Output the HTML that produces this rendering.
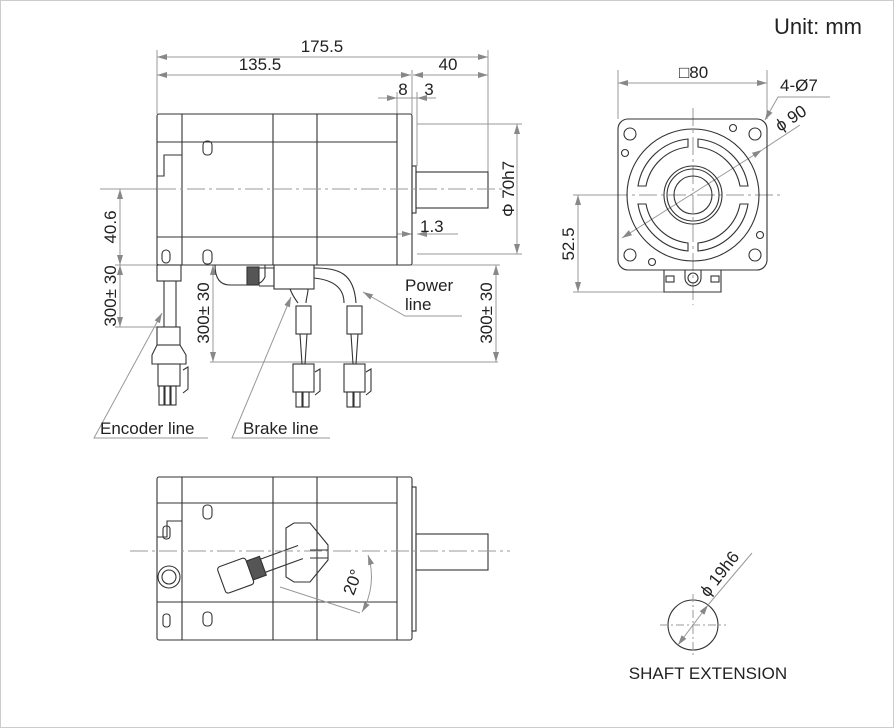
<!DOCTYPE html>
<html><head><meta charset="utf-8"><style>
html,body{margin:0;padding:0;background:#fff;}
svg{display:block;font-family:"Liberation Sans",sans-serif;}
</style></head><body>
<svg width="894" height="728" viewBox="0 0 894 728" xmlns="http://www.w3.org/2000/svg">
<defs>
<marker id="a" viewBox="0 0 10 6" refX="10" refY="3" markerWidth="10" markerHeight="6" orient="auto-start-reverse" markerUnits="userSpaceOnUse"><path d="M0,0L10,3L0,6z" fill="#888"/></marker>
</defs>
<rect x="0.5" y="0.5" width="893" height="727" fill="#fff" stroke="#ccc"/>
<text x="862" y="34" font-size="22" text-anchor="end" fill="#222">Unit: mm</text>

<!-- ===== Top side view ===== -->
<g fill="none" stroke="#999" stroke-width="1">
<!-- extension lines -->
<line x1="157" y1="50" x2="157" y2="114"/><line x1="488" y1="50" x2="488" y2="172"/>
<line x1="412" y1="70" x2="412" y2="114"/><line x1="397" y1="92" x2="397" y2="114"/><line x1="417" y1="92" x2="417" y2="166"/>
<line x1="157" y1="57" x2="488" y2="57" marker-start="url(#a)" marker-end="url(#a)"/>
<line x1="157" y1="75" x2="411" y2="75" marker-start="url(#a)" marker-end="url(#a)"/>
<line x1="413" y1="75" x2="488" y2="75" marker-start="url(#a)" marker-end="url(#a)"/>
<line x1="378" y1="98" x2="397" y2="98" marker-end="url(#a)"/>
<line x1="436" y1="98" x2="417" y2="98" marker-end="url(#a)"/>
<line x1="397" y1="98" x2="417" y2="98"/>
<!-- phi 70 -->
<line x1="417" y1="124" x2="522" y2="124"/><line x1="417" y1="254" x2="522" y2="254"/>
<line x1="517" y1="124" x2="517" y2="254" marker-start="url(#a)" marker-end="url(#a)"/>
<!-- 1.3 -->
<line x1="397" y1="234" x2="412" y2="234" marker-end="url(#a)"/>
<line x1="458" y1="234" x2="417" y2="234" marker-end="url(#a)"/>
<!-- 40.6 -->
<line x1="115" y1="189" x2="157" y2="189"/>
<line x1="120" y1="189" x2="120" y2="265" marker-start="url(#a)" marker-end="url(#a)"/>
<line x1="115" y1="265" x2="160" y2="265"/>
<line x1="120" y1="265" x2="120" y2="327" marker-start="url(#a)" marker-end="url(#a)"/>
<line x1="115" y1="327" x2="158" y2="327"/>
<!-- middle 300 -->
<line x1="213" y1="265" x2="213" y2="362" marker-start="url(#a)" marker-end="url(#a)"/>
<line x1="210" y1="362" x2="498" y2="362"/>
<line x1="496" y1="265" x2="496" y2="362" marker-start="url(#a)" marker-end="url(#a)"/>
<line x1="300" y1="265" x2="500" y2="265"/>
<!-- leaders -->
<polyline points="162,313 94,438 208,438" marker-start="url(#a)"/>
<polyline points="291,297 232,438 330,438" marker-start="url(#a)"/>
<polyline points="363,292 405,316 462,316" marker-start="url(#a)"/>
</g>
<g fill="#222" font-size="17">
<text x="322" y="52" text-anchor="middle">175.5</text>
<text x="260" y="70" text-anchor="middle">135.5</text>
<text x="448" y="70" text-anchor="middle">40</text>
<text x="403" y="95" text-anchor="middle">8</text>
<text x="429" y="95" text-anchor="middle">3</text>
<text x="420" y="232">1.3</text>
<text x="405" y="291">Power</text><text x="405" y="310">line</text>
<text x="100" y="434">Encoder line</text>
<text x="243" y="434">Brake line</text>
<text transform="translate(514,189) rotate(-90)" text-anchor="middle">Φ 70h7</text>
<text transform="translate(116,227) rotate(-90)" text-anchor="middle">40.6</text>
<text transform="translate(116,296) rotate(-90)" text-anchor="middle">300± 30</text>
<text transform="translate(209,313) rotate(-90)" text-anchor="middle">300± 30</text>
<text transform="translate(492,313) rotate(-90)" text-anchor="middle">300± 30</text>
</g>
<g fill="none" stroke="#333" stroke-width="1.1">
<rect x="157" y="114" width="255" height="151" rx="2"/>
<line x1="182" y1="114" x2="182" y2="265"/>
<line x1="273" y1="114" x2="273" y2="265"/><line x1="317" y1="114" x2="317" y2="265"/>
<line x1="397" y1="114" x2="397" y2="265"/>
<line x1="157" y1="142" x2="397" y2="142"/><line x1="157" y1="237" x2="397" y2="237"/>
<polyline points="182,155 164,155 164,176 157,176"/>
<rect x="412" y="166" width="4" height="47"/>
<rect x="416" y="172" width="72" height="36"/>
<rect x="203" y="141" width="9" height="14" rx="4"/>
<rect x="203" y="250" width="9" height="14" rx="4"/>
<rect x="162" y="250" width="8" height="13" rx="4"/>
<!-- encoder cable -->
<rect x="157" y="265" width="24" height="16"/>
<line x1="164" y1="281" x2="164" y2="327"/><line x1="176" y1="281" x2="176" y2="327"/>
<rect x="157" y="327" width="23" height="18"/>
<polygon points="157,345 180,345 186,355 186,364 152,364 152,355"/>
<rect x="158" y="364" width="22" height="22"/>
<rect x="159" y="386" width="5" height="19"/><rect x="165" y="386" width="5" height="19"/><rect x="171" y="386" width="5" height="19"/>
<path d="M183,370 l5,-3 0,22 -5,4"/>
<!-- brake connector -->
<path d="M215,265 c0,10 3,20 15,20 h20 c8,0 12,-2 15,-8 v-12"/>
<rect x="247" y="267" width="12" height="18" fill="#555"/>
<path d="M259,268 h15 v18 h-15"/>
<rect x="274" y="265" width="40" height="24"/>
<path d="M290,289 c2,5 5,10 8,14 M308,289 c0,5 -2,10 -2,14"/>
<path d="M314,268 c25,0 40,5 42,35 M314,278 c20,2 30,10 30,25"/>
<!-- brake/power lead connectors -->
<g>
<rect x="296" y="306" width="15" height="28"/>
<path d="M300,334 l2,30 M307,334 l-2,30"/>
<rect x="293" y="364" width="21" height="28"/><rect x="296" y="392" width="6" height="15"/><rect x="303" y="392" width="6" height="15"/>
<path d="M315,372 l5,-3 0,22 -5,4"/>
</g>
<g transform="translate(51,0)">
<rect x="296" y="306" width="15" height="28"/>
<path d="M300,334 l2,30 M307,334 l-2,30"/>
<rect x="293" y="364" width="21" height="28"/><rect x="296" y="392" width="6" height="15"/><rect x="303" y="392" width="6" height="15"/>
<path d="M315,372 l5,-3 0,22 -5,4"/>
</g>
</g>
<line x1="100" y1="189" x2="510" y2="189" stroke="#999" stroke-dasharray="18,4,3,4"/>

<!-- ===== Front view ===== -->
<g fill="none" stroke="#999">
<line x1="618" y1="70" x2="618" y2="119"/><line x1="767" y1="70" x2="767" y2="119"/>
<line x1="618" y1="83" x2="767" y2="83" marker-start="url(#a)" marker-end="url(#a)"/>
<polyline points="830,97 778,97 765,120" marker-end="url(#a)"/>
<line x1="622" y1="238" x2="762" y2="150" marker-start="url(#a)" marker-end="url(#a)"/>
<line x1="762" y1="150" x2="800" y2="125"/>
<line x1="573" y1="195" x2="623" y2="195"/><line x1="573" y1="292" x2="690" y2="292"/>
<line x1="578" y1="195" x2="578" y2="292" marker-start="url(#a)" marker-end="url(#a)"/>
<line x1="610" y1="195" x2="780" y2="195" stroke-dasharray="18,4,3,4"/>
<line x1="693" y1="108" x2="693" y2="305" stroke-dasharray="18,4,3,4"/>
</g>
<g fill="#222" font-size="17">
<text x="679" y="78">□80</text>
<text x="780" y="91">4-Ø7</text>
<text transform="translate(780,132) rotate(-33)">ϕ 90</text>
<text transform="translate(574,244) rotate(-90)" text-anchor="middle">52.5</text>
</g>
<g fill="none" stroke="#333" stroke-width="1.1">
<rect x="618" y="119" width="149" height="151" rx="10"/>
<circle cx="693" cy="195" r="66"/>
<circle cx="693" cy="195" r="29"/><circle cx="693" cy="195" r="26"/><circle cx="693" cy="195" r="19"/>
<path d="M688,139 a56,56 0 0 0 -50,47 h8 a48,48 0 0 1 42,-39 z"/>
<path d="M698,139 a56,56 0 0 1 50,47 h-8 a48,48 0 0 0 -42,-39 z"/>
<path d="M688,251 a56,56 0 0 1 -50,-47 h8 a48,48 0 0 0 42,39 z"/>
<path d="M698,251 a56,56 0 0 0 50,-47 h-8 a48,48 0 0 1 -42,39 z"/>
<circle cx="630" cy="134" r="6"/><circle cx="755" cy="134" r="6"/><circle cx="630" cy="255" r="6"/><circle cx="755" cy="255" r="6"/>
<circle cx="733" cy="128" r="3.5"/><circle cx="625" cy="153" r="3.5"/><circle cx="760" cy="235" r="3.5"/><circle cx="652" cy="262" r="3.5"/>
<path d="M664,270 v22 h57 v-22"/>
<circle cx="693" cy="278" r="5"/><path d="M685,270 v8 a8,8 0 0 0 16,0 v-8"/>
<rect x="666" y="276" width="8" height="6"/><rect x="711" y="276" width="8" height="6"/>
</g>

<!-- ===== Bottom side view ===== -->
<g fill="none" stroke="#333" stroke-width="1.1">
<rect x="157" y="477" width="255" height="163" rx="2"/>
<line x1="182" y1="477" x2="182" y2="640"/>
<line x1="273" y1="477" x2="273" y2="640"/><line x1="317" y1="477" x2="317" y2="640"/>
<line x1="397" y1="477" x2="397" y2="640"/>
<line x1="157" y1="503" x2="397" y2="503"/><line x1="157" y1="602" x2="397" y2="602"/>
<polyline points="182,521 167,521 167,537 157,537"/>
<rect x="412" y="487" width="4" height="144"/>
<rect x="416" y="534" width="72" height="36"/>
<rect x="203" y="505" width="9" height="14" rx="4"/><rect x="203" y="612" width="9" height="14" rx="4"/>
<rect x="163" y="614" width="7" height="13" rx="3"/><rect x="163" y="526" width="7" height="13" rx="3"/>
<circle cx="169" cy="577" r="11"/><circle cx="169" cy="577" r="7"/>
<path d="M286,528 l8,-5 h16 l18,22 v15 l-18,22 h-16 l-8,-5 z"/>
<path d="M328,550 h-18 M328,558 h-18"/>
<g transform="rotate(-20 240 573)">
<rect x="220" y="560" width="30" height="28" rx="3"/>
<rect x="250" y="564" width="14" height="20" fill="#555"/>
<path d="M264,567 h40 M264,581 h40"/>
</g>
</g>
<g fill="none" stroke="#999">
<line x1="130" y1="551" x2="510" y2="551" stroke-dasharray="18,4,3,4"/>
<line x1="280" y1="587" x2="360" y2="613"/>
<path d="M368,555 a70,70 0 0 1 -6,57" marker-start="url(#a)" marker-end="url(#a)"/>
</g>
<text transform="translate(358,584) rotate(-70)" font-size="17" fill="#222" text-anchor="middle">20°</text>

<!-- Shaft extension -->
<g fill="none">
<circle cx="693" cy="625" r="25" stroke="#333" stroke-width="1.1"/>
<line x1="660" y1="625" x2="726" y2="625" stroke="#999" stroke-dasharray="8,3,2,3"/>
<line x1="693" y1="594" x2="693" y2="656" stroke="#999" stroke-dasharray="8,3,2,3"/>
<line x1="678" y1="645" x2="708" y2="605" stroke="#999" marker-start="url(#a)" marker-end="url(#a)"/>
<line x1="708" y1="605" x2="752" y2="553" stroke="#999"/>
</g>
<text transform="translate(708,598) rotate(-52)" font-size="17" fill="#222">ϕ 19h6</text>
<text x="708" y="679" font-size="17" fill="#222" text-anchor="middle">SHAFT EXTENSION</text>
</svg>
</body></html>
